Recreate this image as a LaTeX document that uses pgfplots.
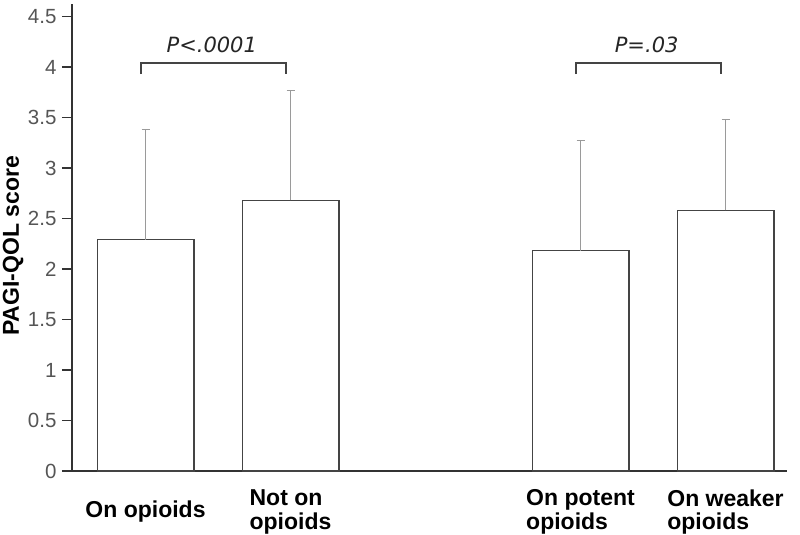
\documentclass[border=0pt]{standalone}
\usepackage{pgfplots}
\pgfplotsset{compat=1.18}
\usepackage{fontspec}
\setmainfont{Liberation Sans}
\newfontfamily\pfont{DejaVu Sans}
\definecolor{barline}{HTML}{444444}
\definecolor{errcol}{HTML}{9A9A9A}
\definecolor{ticktext}{HTML}{555555}
\definecolor{axcol}{HTML}{333333}
\begin{document}
\begin{tikzpicture}
\useasboundingbox (-72pt,-64pt) rectangle (728pt,471pt);
\begin{axis}[
  at={(0pt,0pt)}, anchor=south west,
  scale only axis, width=715pt, height=467pt,
  xmin=0.493, xmax=5.424, ymin=0, ymax=4.624,
  axis x line=bottom, axis y line=left,
  axis line style={-},
  x axis line style={line width=1.3pt, color=axcol},
  y axis line style={line width=1.8pt, color=axcol},
  xtick={1,2,4,5},
  xticklabels={On opioids,{Not on\\opioids},{On potent\\opioids},{On weaker\\opioids}},
  xtick style={draw=none},
  xticklabel style={anchor=center, yshift=-31pt, align=left,
    font=\fontsize{23}{23.5}\selectfont\bfseries},
  ytick={0,0.5,1,1.5,2,2.5,3,3.5,4,4.5},
  yticklabels={0,0.5,1,1.5,2,2.5,3,3.5,4,4.5},
  ytick style={line width=1.5pt, color=axcol},
  tick align=outside, major tick length=10pt,
  yticklabel style={font=\fontsize{20.5}{22}\selectfont, color=ticktext, xshift=-2pt},
  ylabel={PAGI-QOL score},
  ylabel style={at={(axis description cs:-0.0825,0.482)}, anchor=center,
    font=\fontsize{23}{24}\selectfont\bfseries},
  clip=false,
]
\addplot[ybar, bar width=0.667, fill=white, draw=barline, line width=1.3pt,
  error bars/.cd, y dir=plus, y explicit,
  error bar style={color=errcol, line width=1.3pt},
  error mark options={rotate=90, mark size=4pt, color=errcol, line width=1.3pt}]
  coordinates {
  (1,2.29) +- (0,1.09)
  (2,2.68) +- (0,1.09)
  (4,2.18) +- (0,1.09)
  (5,2.58) +- (0,0.90)
  };
\addplot[color=barline, line width=1.5pt, sharp plot, mark=none]
  coordinates {(0.97,3.93) (0.97,4.04) (1.97,4.04) (1.97,3.93)};
\addplot[color=barline, line width=1.5pt, sharp plot, mark=none]
  coordinates {(3.97,3.93) (3.97,4.04) (4.97,4.04) (4.97,3.93)};
\node[font=\pfont\itshape\fontsize{21}{22}\selectfont, color=black!85] at (axis cs:1.457,4.22) {P<.0001};
\node[font=\pfont\itshape\fontsize{21}{22}\selectfont, color=black!85] at (axis cs:4.456,4.22) {P=.03};
\end{axis}
\end{tikzpicture}
\end{document}
